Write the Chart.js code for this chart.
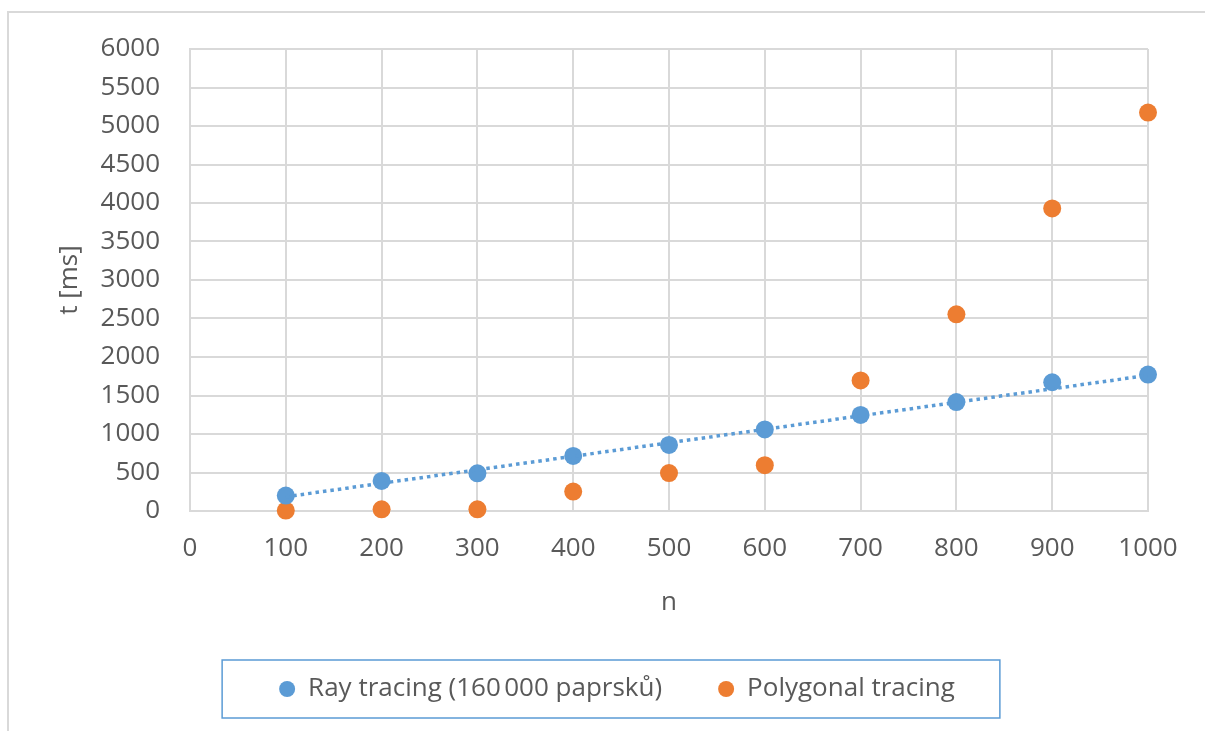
<!DOCTYPE html>
<html>
<head>
<meta charset="utf-8">
<script src="https://cdn.jsdelivr.net/npm/chart.js@4/dist/chart.umd.min.js"></script>
<style>
  html, body { margin: 0; padding: 0; background: #fff; overflow: hidden; }
  #frame { position: absolute; left: 7px; top: 11px; width: 1300px; height: 800px;
           border-top: 2px solid #d9d9d9; border-left: 2px solid #d9d9d9; }
  #wrap { position: absolute; left: 0; top: 0; width: 1205px; height: 731px; }
</style>
</head>
<body>
<div id="frame"></div>
<div id="wrap"><canvas id="c" width="1205" height="731"></canvas></div>
<script>
const nValues = [100, 200, 300, 400, 500, 600, 700, 800, 900, 1000];
const rayTracing = [200, 390, 490, 715, 858, 1060, 1248, 1415, 1672, 1772];
const polygonalTracing = [5, 22, 22, 252, 492, 595, 1695, 2555, 3930, 5175];
const trendX = [100, 1000];
const trendY = [185, 1762];
const seriesNames = ['Ray tracing (160\u202F000 paprsků)', 'Polygonal tracing'];
const xTitle = 'n';
const yTitle = 't [ms]';

const BLUE = '#5B9BD5';
const ORANGE = '#ED7D31';
const FONT = "'Open Sans', sans-serif";
const TICK = '#595959';
const GRID = '#d9d9d9';

const toPts = (xs, ys) => xs.map((x, i) => ({x: x, y: ys[i]}));
const plainTick = (v) => String(v);

const legendBorder = {
  id: 'legendBorder',
  afterDraw(chart) {
    const lg = chart.legend;
    if (!lg || !lg.legendHitBoxes || !lg.legendHitBoxes.length) return;
    const hb = lg.legendHitBoxes;
    const first = hb[0], last = hb[hb.length - 1];
    const cy = first.top + first.height / 2;
    const ctx = chart.ctx;
    ctx.save();
    ctx.strokeStyle = BLUE;
    ctx.lineWidth = 1.5;
    ctx.strokeRect(first.left - 57, cy - 29, (last.left + last.width + 45) - (first.left - 57), 58);
    ctx.restore();
  }
};

new Chart(document.getElementById('c'), {
  type: 'scatter',
  data: {
    datasets: [
      {
        label: seriesNames[0],
        data: toPts(nValues, rayTracing),
        backgroundColor: BLUE, borderColor: BLUE,
        pointRadius: 9, pointHoverRadius: 9, pointBorderWidth: 0,
        clip: false,
        order: 2
      },
      {
        label: seriesNames[1],
        data: toPts(nValues, polygonalTracing),
        backgroundColor: ORANGE, borderColor: ORANGE,
        pointRadius: 9, pointHoverRadius: 9, pointBorderWidth: 0,
        clip: false,
        order: 3
      },
      {
        type: 'line',
        label: 'trend',
        data: toPts(trendX, trendY),
        borderColor: BLUE, borderWidth: 3.5,
        borderDash: [3.5, 4],
        pointRadius: 0, fill: false, showLine: true,
        clip: false,
        order: 1
      }
    ]
  },
  options: {
    responsive: false,
    animation: false,
    devicePixelRatio: 1,
    layout: { padding: { top: 49, left: 29, right: 0, bottom: 19 } },
    plugins: {
      tooltip: { enabled: false },
      legend: {
        position: 'bottom',
        align: 'center',
        labels: {
          filter: (item) => item.datasetIndex < 2,
          usePointStyle: true,
          pointStyle: 'circle',
          pointStyleWidth: 16,
          boxHeight: 11.3,
          padding: 56,
          color: TICK,
          font: { family: FONT, size: 26 }
        }
      }
    },
    scales: {
      x: {
        type: 'linear',
        min: 0, max: 1000,
        ticks: { stepSize: 100, color: TICK, padding: 22, font: { family: FONT, size: 26 }, callback: plainTick },
        grid: { color: GRID, lineWidth: 2, drawTicks: false },
        border: { color: GRID, width: 2 },
        title: { display: true, text: xTitle, color: TICK, font: { family: FONT, size: 26 }, padding: { top: 0, bottom: 2 } },
        afterFit(s) { s.height = 109; }
      },
      y: {
        type: 'linear',
        min: 0, max: 6000,
        ticks: { stepSize: 500, color: TICK, padding: 30, font: { family: FONT, size: 26 }, callback: plainTick },
        grid: { color: GRID, lineWidth: 2, drawTicks: false },
        border: { color: GRID, width: 2 },
        title: { display: true, text: yTitle, color: TICK, font: { family: FONT, size: 26 }, padding: { top: 25, bottom: 0 } },
        afterFit(s) { s.width = 161; }
      },
      yR: {
        type: 'linear',
        position: 'right',
        display: true,
        min: 0, max: 6000,
        ticks: { display: false },
        grid: { display: false, drawTicks: false },
        border: { display: false },
        afterFit(s) { s.width = 57; }
      }
    }
  },
  plugins: [legendBorder]
});
</script>
</body>
</html>
